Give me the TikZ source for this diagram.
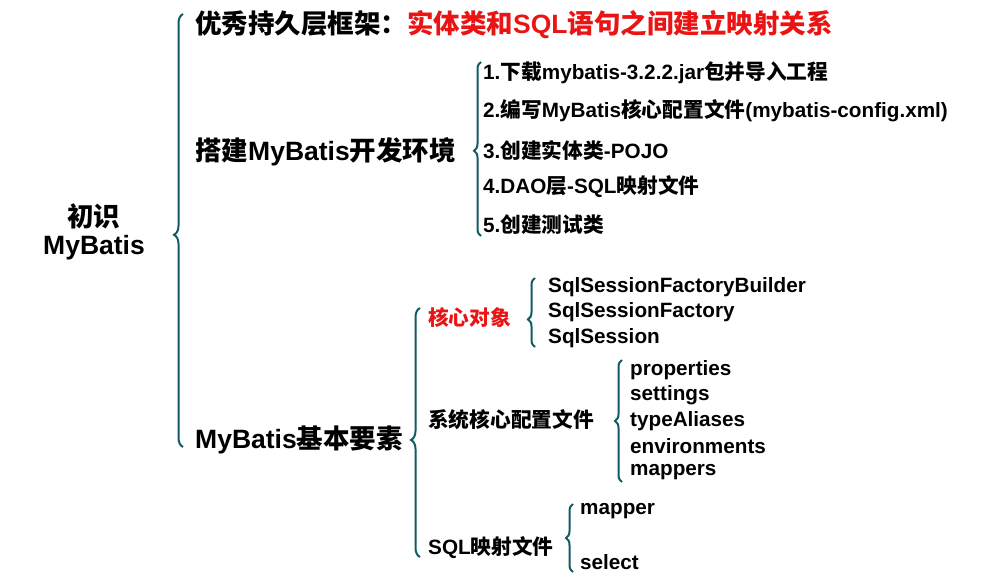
\documentclass[tikz,border=0pt]{standalone}
\usepackage{fontspec}
\setmainfont{Liberation Sans}[BoldFont={Liberation Sans Bold}]
\newfontfamily\cjk{Noto Sans CJK SC Bold}
\usetikzlibrary{decorations.pathreplacing}
\definecolor{br}{RGB}{16,90,100}
\definecolor{rd}{RGB}{235,20,20}
\newcommand{\zh}[1]{{\cjk #1}}
\tikzset{
  lbl/.style={anchor=west,inner sep=0pt,font=\bfseries\fontsize{20.7}{20.7}\selectfont},
  big/.style={lbl,font=\bfseries\fontsize{26.5}{26.5}\selectfont},
  brc/.style={draw=br,line width=2pt,decorate,decoration={brace,amplitude=9pt}}
}
\begin{document}
\begin{tikzpicture}[x=1pt,y=-1pt]
\useasboundingbox (0,0) rectangle (994,586);
\node[big,anchor=center,align=center] (root) at (94,232) {\zh{初识}\\[2pt]MyBatis};
\node[big] (a) at (195,25) {\zh{优秀持久层框架：}\textcolor{rd}{\zh{实体类和}SQL\zh{语句之间建立映射关系}}};
\node[big] (b) at (195,152) {\zh{搭建}MyBatis\zh{开发环境}};
\node[big] (c) at (195,440) {MyBatis\zh{基本要素}};
\node[lbl] (b1) at (483,73) {1.\zh{下载}mybatis-3.2.2.jar\zh{包并导入工程}};
\node[lbl] (b2) at (483,111) {2.\zh{编写}MyBatis\zh{核心配置文件}(mybatis-config.xml)};
\node[lbl] (b3) at (483,150) {3.\zh{创建实体类}-POJO};
\node[lbl] (b4) at (483,187) {4.DAO\zh{层}-SQL\zh{映射文件}};
\node[lbl] (b5) at (483,225) {5.\zh{创建测试类}};
\node[lbl,text=rd] (c1) at (428,318) {\zh{核心对象}};
\node[lbl] (c2) at (428,420) {\zh{系统核心配置文件}};
\node[lbl] (c3) at (428,548) {SQL\zh{映射文件}};
\node[lbl] (d1) at (548,287) {SqlSessionFactoryBuilder};
\node[lbl] (d2) at (548,312) {SqlSessionFactory};
\node[lbl] (d3) at (548,338) {SqlSession};
\node[lbl] (e1) at (630,370) {properties};
\node[lbl] (e2) at (630,395) {settings};
\node[lbl] (e3) at (630,421) {typeAliases};
\node[lbl] (e4) at (630,446) {environments};
\node[lbl] (e5) at (630,472) {mappers};
\node[lbl] (f1) at (580,511) {mapper};
\node[lbl] (f2) at (580,562) {select};
\draw[brc,decoration={aspect=0.49}] (183,447) -- (183,14);
\draw[brc,decoration={aspect=0.49,amplitude=7pt}] (481,236) -- (481,62);
\draw[brc,decoration={aspect=0.47}] (420,557) -- (420,308);
\draw[brc,decoration={amplitude=7pt,aspect=0.4}] (535,347) -- (535,278);
\draw[brc,decoration={amplitude=7pt}] (622,482) -- (622,360);
\draw[brc,decoration={amplitude=7pt}] (573,572) -- (573,504);
\end{tikzpicture}
\end{document}
